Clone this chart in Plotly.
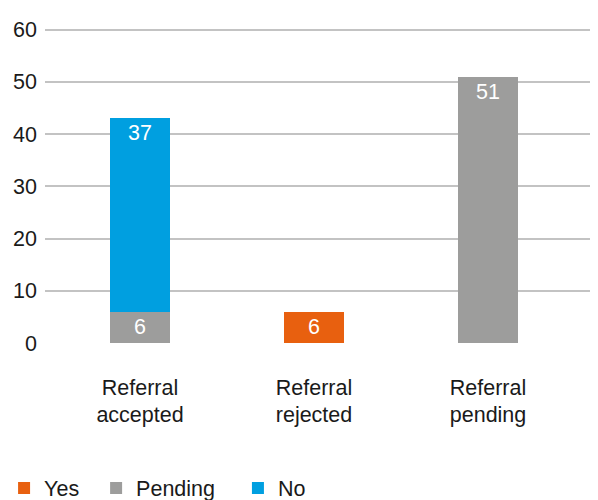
import plotly.graph_objects as go

categories = ["Referral<br>accepted", "Referral<br>rejected", "Referral<br>pending"]
series_names = ["Yes", "Pending", "No"]
yes_vals = [None, 6, None]
pending_vals = [6, None, 51]
no_vals = [37, None, None]

colors = {"Yes": "#E8600F", "Pending": "#9D9D9C", "No": "#009FE0"}
FONT = "Liberation Sans"
pads = {"Yes": "\u00a0\u00a0", "Pending": "\u00a0\u00a0\u00a0", "No": ""}  # legend entry spacing

fig = go.Figure()
for name, vals in zip(series_names, [yes_vals, pending_vals, no_vals]):
    fig.add_trace(go.Bar(
        x=[0, 1, 2], y=vals, name=name + pads[name],
        marker=dict(color=colors[name], line=dict(width=0)),
        width=0.34,
        text=[str(v) if v is not None else "" for v in vals],
        textposition="inside", insidetextanchor="end",
        textfont=dict(color="white", size=21.5, family=FONT),
        hoverinfo="skip",
    ))

fig.update_layout(
    barmode="stack",
    width=590, height=492,
    margin=dict(l=37, r=0, t=20, b=157, autoexpand=False),
    plot_bgcolor="white", paper_bgcolor="white",
    font=dict(family=FONT, size=21.5, color="#1a1a1a"),
    showlegend=True,
    legend=dict(orientation="h", x=-0.074, xanchor="left", y=-0.46, yanchor="middle",
                font=dict(size=21.5), traceorder="normal", itemwidth=30),
    xaxis=dict(range=[-0.546, 2.632], tickmode="array", tickvals=[0, 1, 2],
               ticktext=categories, showgrid=False, zeroline=False, showline=False,
               ticks="", ticklabelstandoff=29, automargin=False),
    yaxis=dict(range=[0, 60.3], tickvals=[0, 10, 20, 30, 40, 50, 60], showgrid=True,
               gridcolor="#c3c3c3", gridwidth=1.5, zeroline=False, showline=False,
               ticks="", ticklabelstandoff=7, automargin=False),
)

fig.write_html("out.html")
